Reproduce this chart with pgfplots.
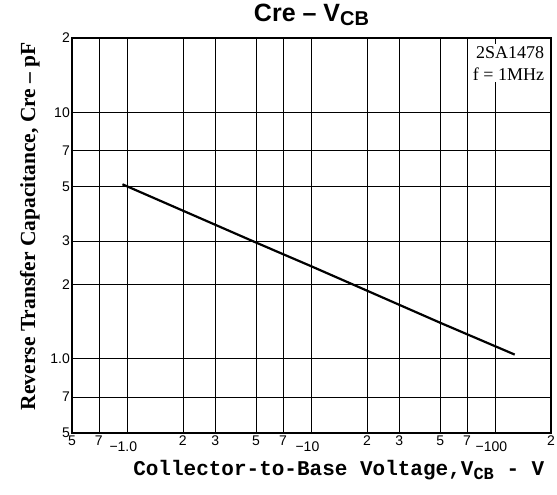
\documentclass[border=0pt]{standalone}
\usepackage{fontspec}
\usepackage{pgfplots}
\pgfplotsset{compat=1.18}
\setmainfont{Liberation Sans}
\newfontfamily\serifb{Liberation Serif}
\newfontfamily\monob{Liberation Mono}
\begin{document}
\begin{tikzpicture}
\begin{axis}[
  scale only axis,
  width=479pt, height=395pt,
  xmode=log, ymode=log,
  xmin=0.5, xmax=200, ymin=0.5, ymax=20,
  xtick={0.5,0.7,1,2,3,5,7,10,20,30,50,70,100,200},
  xticklabels={5,7,\rule{0pt}{15pt}\llap{−}1.0,2,3,5,7,\rule{0pt}{15pt}\llap{−}10,2,3,5,7,\rule{0pt}{15pt}\llap{−}100,2},
  ytick={0.5,0.7,1,2,3,5,7,10,20},
  yticklabels={5,7,1.0,2,3,5,7,10,2},
  minor xtick={}, minor ytick={},
  major tick length=0pt,
  grid=major,
  major grid style={black, line width=0.6pt},
  axis line style={black, line width=1.3pt},
  tick label style={font=\fontsize{14}{14}\selectfont, inner sep=1pt},
  xticklabel style={yshift=-2pt},
  yticklabel style={xshift=-1pt},
  title={\fontsize{25}{25}\selectfont\bfseries Cre – V\raisebox{-0.35ex}{\fontsize{20}{20}\selectfont CB}},
  title style={at={(axis description cs:0.5,1.043)}, anchor=center},
  xlabel={\fontsize{21}{21}\selectfont\monob\bfseries Collector-to-Base Voltage,V\raisebox{-0.4ex}{\fontsize{17}{17}\selectfont CB} - V},
  xlabel style={at={(axis description cs:0.557,-0.094)}, anchor=center},
  ylabel={\fontsize{21.5}{21.5}\selectfont\serifb\bfseries Reverse Transfer Capacitance, Cre – pF},
  ylabel style={at={(axis description cs:-0.088,0.524)}, anchor=center},
]
\addplot[black, line width=2.2pt, no marks] coordinates {
 (0.94,5.1) (2,3.99) (5,2.96) (10,2.37) (20,1.89) (50,1.40) (127,1.04)
};
\node[anchor=north east, fill=white, align=right, inner sep=2pt, font=\serifb\fontsize{18}{22}\selectfont]
  at (rel axis cs:0.99,0.985) {2SA1478\\f = 1MHz};
\end{axis}
\pgfresetboundingbox
\path ([shift={(-72pt,-62pt)}]current axis.south west) rectangle ([shift={(6pt,38pt)}]current axis.north east);
\end{tikzpicture}
\end{document}
